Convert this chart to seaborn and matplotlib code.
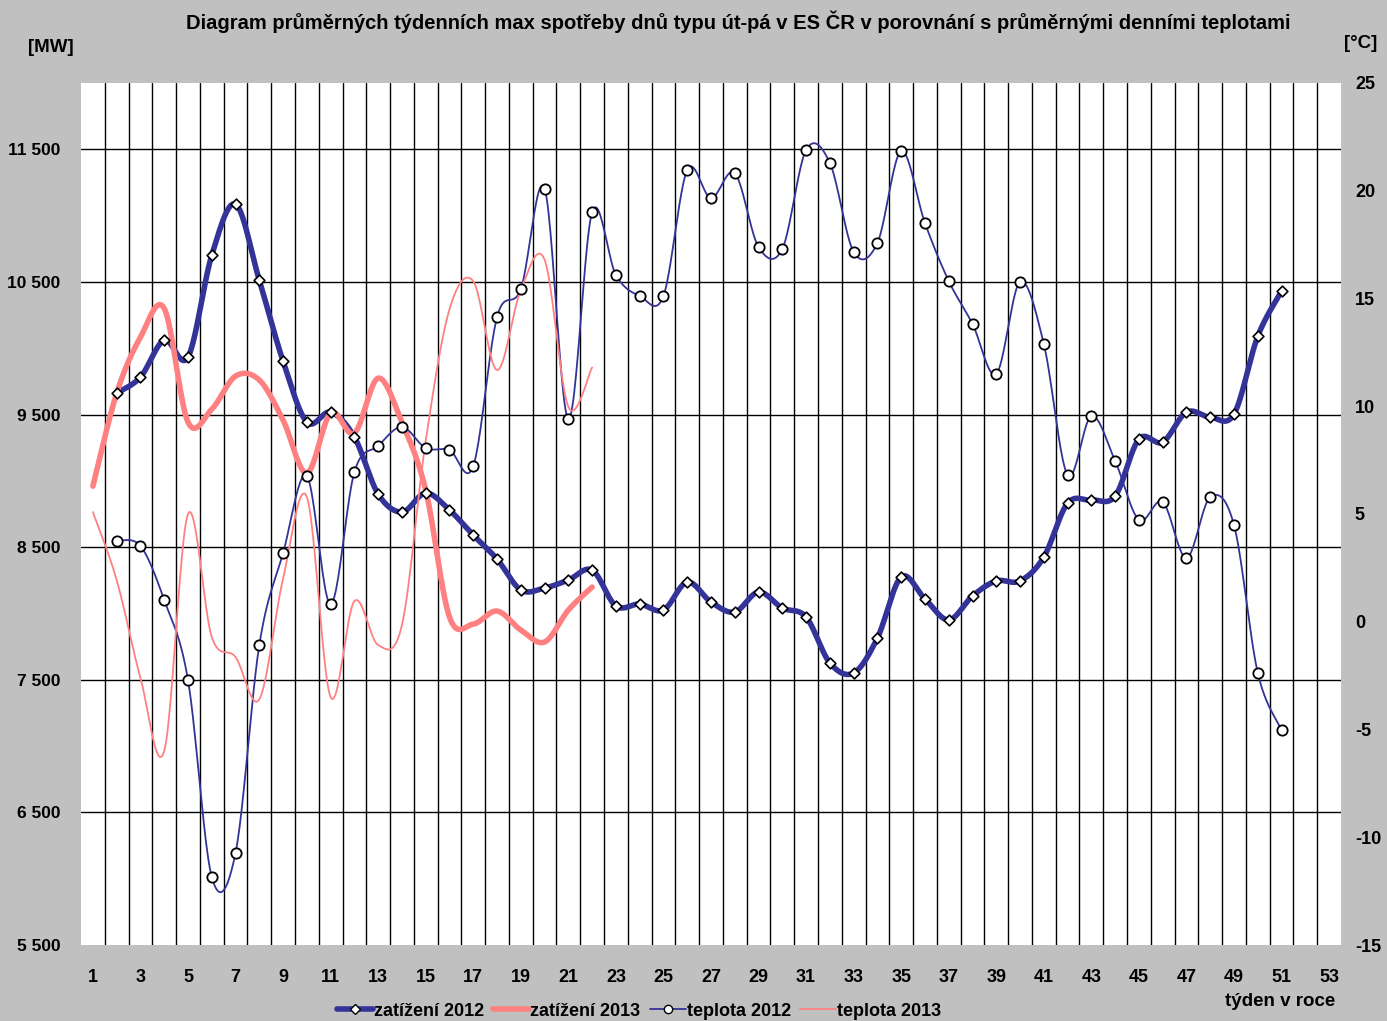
import numpy as np
import matplotlib
matplotlib.use("Agg")
import matplotlib.pyplot as plt
from matplotlib.lines import Line2D
from matplotlib.ticker import FuncFormatter, FixedLocator
import seaborn as sns

# ---- data -------------------------------------------------------------
weeks_2012 = list(range(2, 52))
load_2012 = [9661, 9782, 10061, 9933, 10701, 11086, 10513, 9902, 9443, 9518,
             9330, 8900, 8765, 8908, 8780, 8591, 8410, 8177, 8192, 8252,
             8327, 8056, 8071, 8026, 8237, 8086, 8011, 8162, 8041, 7973,
             7627, 7551, 7815, 8275, 8109, 7951, 8132, 8245, 8245, 8425,
             8832, 8855, 8885, 9315, 9292, 9518, 9480, 9503, 10091, 10430]
temp_2012 = [3.75, 3.52, 1.01, -2.70, -11.84, -10.73, -1.08, 3.19, 6.76, 0.82,
             6.95, 8.16, 9.04, 8.06, 7.97, 7.23, 14.14, 15.44, 20.10, 9.41,
             19.01, 16.09, 15.12, 15.12, 20.96, 19.66, 20.82, 17.39, 17.30, 21.89,
             21.29, 17.16, 17.58, 21.84, 18.50, 15.81, 13.82, 11.50, 15.77, 12.89,
             6.81, 9.55, 7.46, 4.72, 5.56, 2.96, 5.79, 4.49, -2.38, -5.02]

weeks_2013 = list(range(1, 23))
load_2013 = [8960, 9661, 10083, 10300, 9443, 9540, 9790, 9760, 9458, 9058,
             9511, 9360, 9774, 9440, 8930, 7973, 7920, 8018, 7875, 7785,
             8026, 8199]
temp_2013 = [5.09, 1.94, -2.6, -6.0, 5.0, -0.7, -1.64, -3.6, 2.0, 5.79,
             -3.5, 0.96, -1.08, -0.15, 8.4, 14.5, 15.8, 11.68, 15.4, 16.8,
             9.97, 11.8]

load_ticks = [5500, 6500, 7500, 8500, 9500, 10500, 11500]
temp_ticks = [-15, -10, -5, 0, 5, 10, 15, 20, 25]
week_labels = list(range(1, 54, 2))

title = ("Diagram průměrných týdenních max spotřeby dnů typu út-pá "
         "v ES ČR v porovnání s průměrnými denními teplotami")

BLUE = "#333399"
SALMON = "#FF8080"
BG = "#C0C0C0"


def smooth(x, y, n=24):
    """Catmull-Rom curve through the points (cubic Bezier smoothing)."""
    x = np.asarray(x, float)
    y = np.asarray(y, float)
    px = np.concatenate([[x[0]], x, [x[-1]]])
    py = np.concatenate([[y[0]], y, [y[-1]]])
    xs, ys = [], []
    t = np.linspace(0, 1, n, endpoint=False)
    for i in range(1, len(px) - 2):
        p0x, p1x, p2x, p3x = px[i - 1], px[i], px[i + 1], px[i + 2]
        p0y, p1y, p2y, p3y = py[i - 1], py[i], py[i + 1], py[i + 2]
        c1x, c1y = p1x + (p2x - p0x) / 6, p1y + (p2y - p0y) / 6
        c2x, c2y = p2x - (p3x - p1x) / 6, p2y - (p3y - p1y) / 6
        b0 = (1 - t) ** 3
        b1 = 3 * (1 - t) ** 2 * t
        b2 = 3 * (1 - t) * t ** 2
        b3 = t ** 3
        xs.append(b0 * p1x + b1 * c1x + b2 * c2x + b3 * p2x)
        ys.append(b0 * p1y + b1 * c1y + b2 * c2y + b3 * p2y)
    xs.append([x[-1]])
    ys.append([y[-1]])
    return np.concatenate(xs), np.concatenate(ys)


sns.set_theme(style="white")
plt.rcParams["font.family"] = ["Liberation Sans", "DejaVu Sans"]
plt.rcParams["font.weight"] = "bold"
plt.rcParams["axes.unicode_minus"] = False
plt.rcParams["text.color"] = "black"
plt.rcParams["xtick.color"] = "black"
plt.rcParams["ytick.color"] = "black"

fig = plt.figure(figsize=(13.87, 10.21), dpi=100, facecolor=BG)
ax = fig.add_axes([81 / 1387, 1 - 945 / 1021, (1341 - 81) / 1387, (945 - 83) / 1021])
ax.set_facecolor("white")

# grid
ax.set_xlim(0.5, 53.5)
ax.set_ylim(5500, 12000)
ax.yaxis.set_major_locator(FixedLocator(load_ticks))
ax.xaxis.set_major_locator(FixedLocator(week_labels))
ax.grid(False)
for v in np.arange(1.5, 53, 1.0):
    ax.axvline(v, color="black", lw=1.0, zorder=0.5)
for h in load_ticks[1:]:
    ax.axhline(h, color="black", lw=1.0, zorder=0.5)

# load curves (left axis)
sx, sy = smooth(weeks_2012, load_2012)
sns.lineplot(x=sx, y=sy, ax=ax, sort=False, estimator=None, color=BLUE, lw=4, zorder=3)
sx, sy = smooth(weeks_2013, load_2013)
sns.lineplot(x=sx, y=sy, ax=ax, sort=False, estimator=None, color=SALMON, lw=4, zorder=4)
sns.scatterplot(x=weeks_2012, y=load_2012, ax=ax, marker="D", s=30, color="white",
                edgecolor="black", linewidth=1.2, zorder=5)

ax.yaxis.set_major_formatter(FuncFormatter(lambda v, p: f"{int(v):,}".replace(",", " ")))
ax.tick_params(axis="y", which="both", length=0, labelsize=12.5, pad=15)
ax.tick_params(axis="x", which="major", length=0, labelsize=13, pad=17)
for lab in ax.get_xticklabels() + ax.get_yticklabels():
    lab.set_fontweight("bold")
for s in ax.spines.values():
    s.set_visible(False)
ax.set_xlabel("")
ax.set_ylabel("")

# temperature curves (right axis)
ax2 = ax.twinx()
ax2.set_ylim(-15, 25)
ax2.yaxis.set_major_locator(FixedLocator(temp_ticks))
sx, sy = smooth(weeks_2012, temp_2012)
sns.lineplot(x=sx, y=sy, ax=ax2, sort=False, estimator=None, color=BLUE, lw=1.3, zorder=3)
sx, sy = smooth(weeks_2013, temp_2013)
sns.lineplot(x=sx, y=sy, ax=ax2, sort=False, estimator=None, color=SALMON, lw=1.3, zorder=4)
sns.scatterplot(x=weeks_2012, y=temp_2012, ax=ax2, marker="o", s=55, color="white",
                edgecolor="black", linewidth=1.3, zorder=5)
ax2.set_xlim(0.5, 53.5)
ax2.grid(False)
ax2.tick_params(axis="y", length=0, labelsize=13, pad=10)
for lab in ax2.get_yticklabels():
    lab.set_fontweight("bold")
for s in ax2.spines.values():
    s.set_visible(False)
ax2.set_ylabel("")

# texts
fig.text(738 / 1387, 1 - 22 / 1021, title, ha="center", va="center",
         fontsize=14.5, fontweight="bold", color="black")
fig.text(51 / 1387, 1 - 47 / 1021, "[MW]", ha="center", va="center",
         fontsize=13.5, fontweight="bold")
fig.text(1361 / 1387, 1 - 44 / 1021, "[°C]", ha="center", va="center",
         fontsize=13.5, fontweight="bold")
fig.text(1280 / 1387, 1 - 1001 / 1021, "týden v roce", ha="center", va="center",
         fontsize=13.5, fontweight="bold")

handles = [
    Line2D([], [], color=BLUE, lw=4, marker="D", markersize=5,
           markerfacecolor="white", markeredgecolor="black"),
    Line2D([], [], color=SALMON, lw=4),
    Line2D([], [], color=BLUE, lw=1.3, marker="o", markersize=6,
           markerfacecolor="white", markeredgecolor="black"),
    Line2D([], [], color=SALMON, lw=1.3),
]
labels = ["zatížení 2012", "zatížení 2013", "teplota 2012", "teplota 2013"]
fig.legend(handles, labels, loc="center", bbox_to_anchor=(639 / 1387, 1 - 1011 / 1021),
           ncol=4, frameon=False, prop={"weight": "bold", "size": 13},
           handlelength=2.0, handletextpad=0.05, columnspacing=0.5)

fig.savefig("out.png", dpi=100, facecolor=BG)
